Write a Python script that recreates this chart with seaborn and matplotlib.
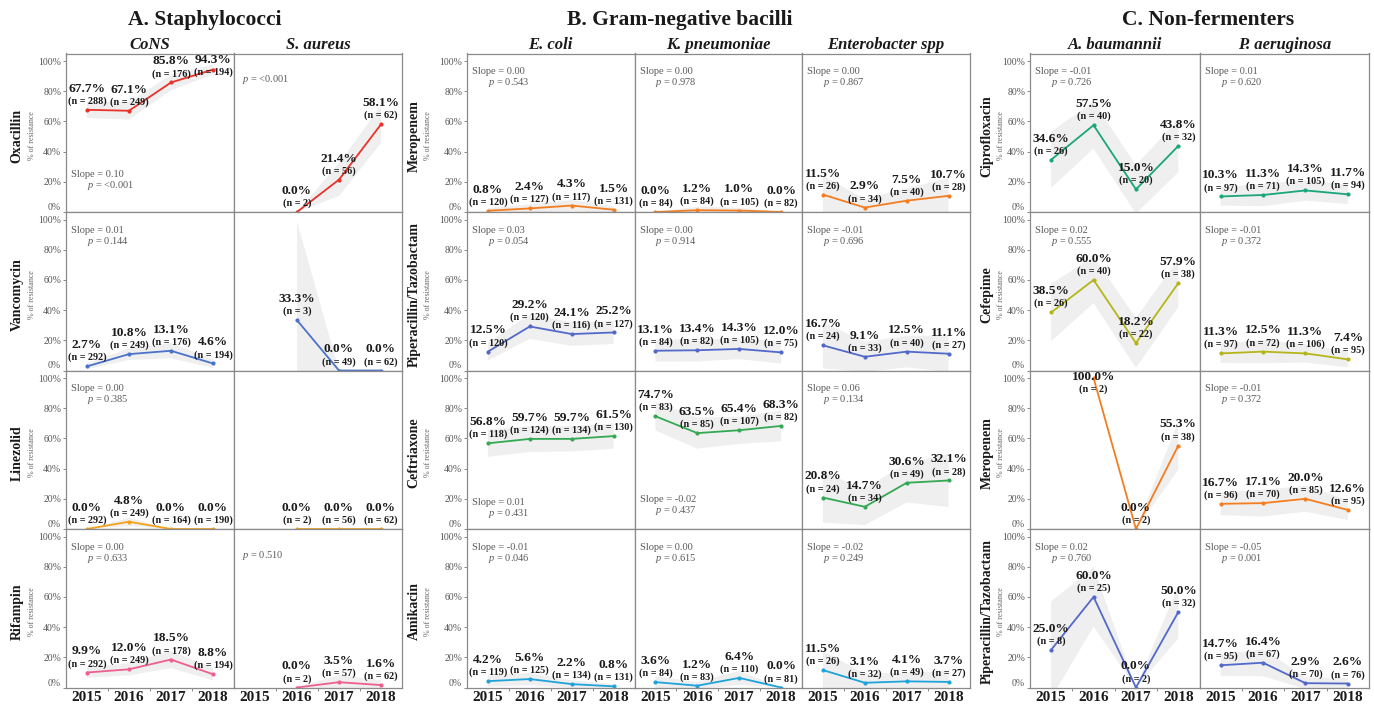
import numpy as np
import pandas as pd
import matplotlib
matplotlib.use("Agg")
import matplotlib.pyplot as plt
import seaborn as sns

years = [2015, 2016, 2017, 2018]

# % resistant per antibiotic (rows), None = no isolates that year
cons_pct = [[67.7, 67.1, 85.8, 94.3], [2.7, 10.8, 13.1, 4.6], [0.0, 4.8, 0.0, 0.0], [9.9, 12.0, 18.5, 8.8]]
cons_n = [[288, 249, 176, 194], [292, 249, 176, 194], [292, 249, 164, 190], [292, 249, 178, 194]]
cons_slope = ["0.10", "0.01", "0.00", "0.00"]
cons_p = ["<0.001", "0.144", "0.385", "0.633"]

saur_pct = [[None, 0.0, 21.4, 58.1], [None, 33.3, 0.0, 0.0], [None, 0.0, 0.0, 0.0], [None, 0.0, 3.5, 1.6]]
saur_n = [[0, 2, 56, 62], [0, 3, 49, 62], [0, 2, 56, 62], [0, 2, 57, 62]]
saur_slope = [None, None, None, None]
saur_p = ["<0.001", None, None, "0.510"]

ecoli_pct = [[0.8, 2.4, 4.3, 1.5], [12.5, 29.2, 24.1, 25.2], [56.8, 59.7, 59.7, 61.5], [4.2, 5.6, 2.2, 0.8]]
ecoli_n = [[120, 127, 117, 131], [120, 120, 116, 127], [118, 124, 134, 130], [119, 125, 134, 131]]
ecoli_slope = ["0.00", "0.03", "0.01", "-0.01"]
ecoli_p = ["0.543", "0.054", "0.431", "0.046"]

kpn_pct = [[0.0, 1.2, 1.0, 0.0], [13.1, 13.4, 14.3, 12.0], [74.7, 63.5, 65.4, 68.3], [3.6, 1.2, 6.4, 0.0]]
kpn_n = [[84, 84, 105, 82], [84, 82, 105, 75], [83, 85, 107, 82], [84, 83, 110, 81]]
kpn_slope = ["0.00", "0.00", "-0.02", "0.00"]
kpn_p = ["0.978", "0.914", "0.437", "0.615"]

ent_pct = [[11.5, 2.9, 7.5, 10.7], [16.7, 9.1, 12.5, 11.1], [20.8, 14.7, 30.6, 32.1], [11.5, 3.1, 4.1, 3.7]]
ent_n = [[26, 34, 40, 28], [24, 33, 40, 27], [24, 34, 49, 28], [26, 32, 49, 27]]
ent_slope = ["0.00", "-0.01", "0.06", "-0.02"]
ent_p = ["0.867", "0.696", "0.134", "0.249"]

abau_pct = [[34.6, 57.5, 15.0, 43.8], [38.5, 60.0, 18.2, 57.9], [None, 100.0, 0.0, 55.3], [25.0, 60.0, 0.0, 50.0]]
abau_n = [[26, 40, 20, 32], [26, 40, 22, 38], [0, 2, 2, 38], [8, 25, 2, 32]]
abau_slope = ["-0.01", "0.02", None, "0.02"]
abau_p = ["0.726", "0.555", None, "0.760"]

paer_pct = [[10.3, 11.3, 14.3, 11.7], [11.3, 12.5, 11.3, 7.4], [16.7, 17.1, 20.0, 12.6], [14.7, 16.4, 2.9, 2.6]]
paer_n = [[97, 71, 105, 94], [97, 72, 106, 95], [96, 70, 85, 95], [95, 67, 70, 76]]
paer_slope = ["0.01", "-0.01", "-0.01", "-0.05"]
paer_p = ["0.620", "0.372", "0.372", "0.001"]

# panels whose slope/p text sits low instead of at the top
low_stats = {("CoNS", 0): 25, ("E. coli", 2): 17.5, ("K. pneumoniae", 2): 19.5}

groups = [
    dict(title="A. Staphylococci", title_x=205, lefts=[66, 234], width=168,
         label_x=17, sub_x=32,
         rows=["Oxacillin", "Vancomycin", "Linezolid", "Rifampin"],
         colors=["#e8322a", "#4a72c9", "#f5a21b", "#ee5f8f"],
         species=[("CoNS", cons_pct, cons_n, cons_slope, cons_p),
                  ("S. aureus", saur_pct, saur_n, saur_slope, saur_p)]),
    dict(title="B. Gram-negative bacilli", title_x=680, lefts=[467, 634.5, 802], width=167.5,
         label_x=414, sub_x=428,
         rows=["Meropenem", "Piperacillin/Tazobactam", "Ceftriaxone", "Amikacin"],
         colors=["#f47d20", "#5369c9", "#34a853", "#1fa3d8"],
         species=[("E. coli", ecoli_pct, ecoli_n, ecoli_slope, ecoli_p),
                  ("K. pneumoniae", kpn_pct, kpn_n, kpn_slope, kpn_p),
                  ("Enterobacter spp", ent_pct, ent_n, ent_slope, ent_p)]),
    dict(title="C. Non-fermenters", title_x=1208, lefts=[1030, 1199.5], width=169.5,
         label_x=987, sub_x=1001,
         rows=["Ciprofloxacin", "Cefepime", "Meropenem", "Piperacillin/Tazobactam"],
         colors=["#1ba57a", "#b5b51b", "#f47d20", "#5369c9"],
         species=[("A. baumannii", abau_pct, abau_n, abau_slope, abau_p),
                  ("P. aeruginosa", paer_pct, paer_n, paer_slope, paer_p)]),
]

sns.set_style("white")
plt.rcParams["font.family"] = ["Liberation Serif", "DejaVu Serif"]
plt.rcParams["mathtext.fontset"] = "custom"
plt.rcParams["mathtext.rm"] = "Liberation Serif"
plt.rcParams["mathtext.it"] = "Liberation Serif:italic"

W, H = 1374, 704
row_tops = [53.5, 212, 370.5, 529]
row_h = 158.5
dark = "#1a1a1a"
grey = "#5a5a5a"

fig = plt.figure(figsize=(W / 100, H / 100), dpi=100)


def panel(ax, pct, n, color):
    recs = []
    for yr, p, k in zip(years, pct, n):
        if p is None:
            continue
        hits = int(round(p * k / 100))
        recs += [(yr, 100.0)] * hits + [(yr, 0.0)] * (k - hits)
    df = pd.DataFrame(recs, columns=["year", "res"])
    sns.lineplot(data=df, x="year", y="res", errorbar=("se", 1.96), color=color,
                 marker="o", markersize=3, markeredgewidth=0, linewidth=1.3, ax=ax)
    for coll in ax.collections:
        coll.set_facecolor("#efefef")
        coll.set_edgecolor("none")
        coll.set_alpha(1)
    for yr, p, k in zip(years, pct, n):
        if p is None:
            continue
        ty = min(p + 14, 100.5)
        ax.text(yr, ty, f"{p:.1f}%", ha="center", va="center", fontsize=9.6,
                fontweight="bold", color=dark)
        ax.text(yr, ty - 8.2, f"(n = {k})", ha="center", va="center", fontsize=7.3,
                fontweight="bold", color=dark)


for g in groups:
    fig.text(g["title_x"] / W, 1 - 20 / H, g["title"], ha="center", va="center",
             fontsize=15.5, fontweight="bold", color=dark)
    for ci, (name, pct_rows, n_rows, slopes, pvals) in enumerate(g["species"]):
        left = g["lefts"][ci]
        fig.text((left + g["width"] / 2) / W, 1 - 45 / H, name, ha="center", va="center",
                 fontsize=12, fontweight="bold", fontstyle="italic", color=dark)
        for ri in range(4):
            top = row_tops[ri]
            ax = fig.add_axes([left / W, 1 - (top + row_h) / H, g["width"] / W, row_h / H])
            panel(ax, pct_rows[ri], n_rows[ri], g["colors"][ri])
            ax.set_xlim(2014.5, 2018.5)
            ax.set_ylim(0, 105)
            ax.set_xlabel("")
            ax.set_ylabel("")
            # slope / p annotation
            sy = low_stats.get((name, ri), 93)
            if slopes[ri] is not None:
                ax.text(2014.62, sy, f"Slope = {slopes[ri]}", ha="left", va="center",
                        fontsize=7.5, color=grey)
                ax.text(2015.0, sy - 7.5, f"$p$ = {pvals[ri]}", ha="left", va="center",
                        fontsize=7.5, color=grey)
            elif pvals[ri] is not None:
                ax.text(2014.68, 87.5, f"$p$ = {pvals[ri]}", ha="left", va="center",
                        fontsize=7.5, color=grey)
            ax.set_yticks([0, 20, 40, 60, 80, 100])
            if ci == 0:
                ax.set_yticklabels([f"{v}%" for v in [0, 20, 40, 60, 80, 100]])
                ax.get_yticklabels()[0].set_verticalalignment("bottom")
                ax.tick_params(axis="y", length=2.5, width=0.6, color="#777777",
                               labelsize=7, labelcolor="#555555", pad=1, left=True)
            else:
                ax.set_yticklabels([])
                ax.tick_params(axis="y", length=0)
            ax.set_xticks(years)
            ax.set_xticks([2015.5, 2016.5, 2017.5], minor=True)
            if ri == 3:
                ax.set_xticklabels([str(y) for y in years])
                ax.tick_params(axis="x", which="major", length=0, labelsize=11, pad=2.5,
                               labelcolor=dark)
                ax.tick_params(axis="x", which="minor", length=2.5, width=0.6,
                               color="#777777", bottom=True)
                for lab in ax.get_xticklabels():
                    lab.set_fontweight("bold")
            else:
                ax.set_xticklabels([])
                ax.tick_params(axis="x", which="both", length=0)
            for sp in ax.spines.values():
                sp.set_color("#8a8a8a")
                sp.set_linewidth(0.9)
            # row labels on first column
            if ci == 0:
                yc = 1 - (top + row_h / 2 + 3) / H
                fig.text(g["label_x"] / W, yc, g["rows"][ri], rotation=90, ha="center",
                         va="center", fontsize=10, fontweight="bold", color=dark)
                fig.text(g["sub_x"] / W, yc, "% of resistance", rotation=90, ha="center",
                         va="center", fontsize=5.8, color="#666666")

fig.savefig("out.png", dpi=100)
